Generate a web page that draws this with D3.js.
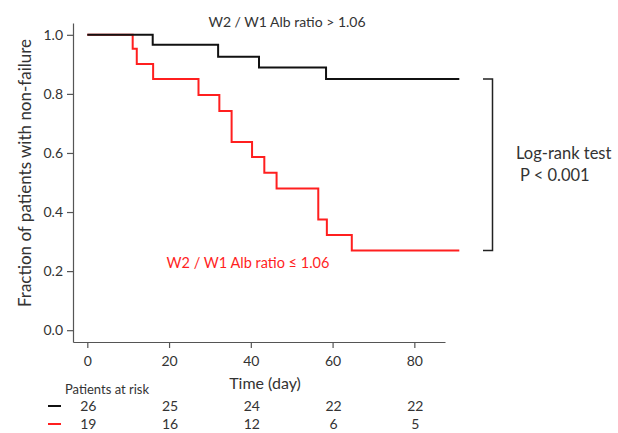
<!DOCTYPE html>
<html>
<head>
<meta charset="utf-8">
<script src="https://cdn.jsdelivr.net/npm/d3@7"></script>
<style>
  html, body { margin: 0; padding: 0; background: #fff; }
  svg text { font-family: Lato, "Open Sans", sans-serif; }
</style>
</head>
<body>
<svg id="chart" width="618" height="433"></svg>
<script>
// ----------------------------
// Data
// ----------------------------
const highTimes = [0, 16, 32, 42, 58.4];
const highSurv  = [1.0, 0.966, 0.926, 0.889, 0.850];

const lowTimes = [0, 11.1, 12.1, 16.1, 27.2, 32.3, 35.3, 40.3, 43.3, 46.3, 56.5, 58.6, 64.7];
const lowSurv  = [1.0, 0.953, 0.901, 0.850, 0.796, 0.742, 0.637, 0.586, 0.533, 0.480, 0.375, 0.322, 0.270];

const endTime = 91;

const xTicks = [0, 20, 40, 60, 80];
const yTicks = [0, 0.2, 0.4, 0.6, 0.8, 1.0];

const riskHigh = [26, 25, 24, 22, 22];
const riskLow  = [19, 16, 12, 6, 5];

const highLabel = "W2 / W1 Alb ratio > 1.06";
const lowLabel  = "W2 / W1 Alb ratio \u2264 1.06";
const testLines = ["Log-rank test", "P < 0.001"];

// ----------------------------
// Setup
// ----------------------------
const svg = d3.select("#chart");
const axisColor = "#555";
const textColor = "#333";
const redColor = "#ff1f1f";

const xScale = d3.scaleLinear().domain([-3.5, 87.5]).range([73, 445]);
const yScale = d3.scaleLinear().domain([-0.04, 1.04]).range([342, 23]);

// axes
const xAxis = svg.append("g")
  .attr("transform", `translate(0,342)`)
  .call(d3.axisBottom(xScale).tickValues(xTicks).tickSize(6).tickSizeOuter(0).tickPadding(8));

const yAxis = svg.append("g")
  .attr("transform", `translate(73,0)`)
  .call(d3.axisLeft(yScale).tickValues(yTicks).tickSize(6).tickSizeOuter(0)
    .tickFormat(d3.format(".1f")).tickPadding(4));

[xAxis, yAxis].forEach(ax => {
  ax.select(".domain").attr("stroke", axisColor).attr("stroke-width", 1.2);
  ax.selectAll(".tick line").attr("stroke", axisColor).attr("stroke-width", 1.2);
  ax.selectAll(".tick text").attr("fill", textColor).style("font-size", "14px")
    .style("font-family", "Lato, 'Open Sans', sans-serif");
});

// ----------------------------
// Step curves
// ----------------------------
function stepPoints(times, surv) {
  const pts = times.map((t, i) => [t, surv[i]]);
  pts.push([endTime, surv[surv.length - 1]]);
  return pts;
}

const stepLine = d3.line()
  .x(d => xScale(d[0]))
  .y(d => yScale(d[1]))
  .curve(d3.curveStepAfter);

svg.append("path")
  .datum(stepPoints(lowTimes, lowSurv))
  .attr("fill", "none")
  .attr("stroke", redColor)
  .attr("stroke-width", 2)
  .attr("d", stepLine);

svg.append("path")
  .datum(stepPoints(highTimes, highSurv))
  .attr("fill", "none")
  .attr("stroke", "#111")
  .attr("stroke-width", 2)
  .attr("d", stepLine);

// ----------------------------
// Labels
// ----------------------------
svg.append("text")
  .attr("x", 287).attr("y", 21)
  .attr("text-anchor", "middle").attr("dominant-baseline", "central")
  .attr("fill", textColor).style("font-size", "14px")
  .text(highLabel);

svg.append("text")
  .attr("x", 248).attr("y", 262)
  .attr("text-anchor", "middle").attr("dominant-baseline", "central")
  .attr("fill", redColor).style("font-size", "14.5px")
  .text(lowLabel);

svg.append("text")
  .attr("transform", "translate(24,173) rotate(-90)")
  .attr("text-anchor", "middle").attr("dominant-baseline", "central")
  .attr("fill", textColor).style("font-size", "17px")
  .text("Fraction of patients with non-failure");

svg.append("text")
  .attr("x", 265).attr("y", 389)
  .attr("text-anchor", "middle")
  .attr("fill", textColor).style("font-size", "16px")
  .text("Time (day)");

// bracket for the log-rank test
const yTop = yScale(highSurv[highSurv.length - 1]);
const yBot = yScale(lowSurv[lowSurv.length - 1]);
svg.append("path")
  .attr("fill", "none")
  .attr("stroke", "#222")
  .attr("stroke-width", 1.5)
  .attr("d", `M483,${yTop}H492.5V${yBot}H483`);

svg.append("text")
  .attr("x", 516).attr("y", 153)
  .attr("dominant-baseline", "central")
  .attr("fill", textColor).style("font-size", "16.5px")
  .text(testLines[0]);

svg.append("text")
  .attr("x", 520).attr("y", 175)
  .attr("dominant-baseline", "central")
  .attr("fill", textColor).style("font-size", "16.5px")
  .text(testLines[1]);

// ----------------------------
// Patients at risk table
// ----------------------------
svg.append("text")
  .attr("x", 65).attr("y", 394)
  .attr("fill", textColor).style("font-size", "13px")
  .text("Patients at risk");

const rows = [
  { values: riskHigh, color: "#111", y: 411 },
  { values: riskLow, color: redColor, y: 429 }
];

rows.forEach(row => {
  svg.append("line")
    .attr("x1", 48).attr("x2", 61)
    .attr("y1", row.y - 5).attr("y2", row.y - 5)
    .attr("stroke", row.color).attr("stroke-width", 2);

  svg.selectAll(null)
    .data(row.values)
    .enter().append("text")
    .attr("x", (d, i) => xScale(xTicks[i]) + 1)
    .attr("y", row.y)
    .attr("text-anchor", "middle")
    .attr("fill", textColor).style("font-size", "14px")
    .text(d => d);
});
</script>
</body>
</html>
